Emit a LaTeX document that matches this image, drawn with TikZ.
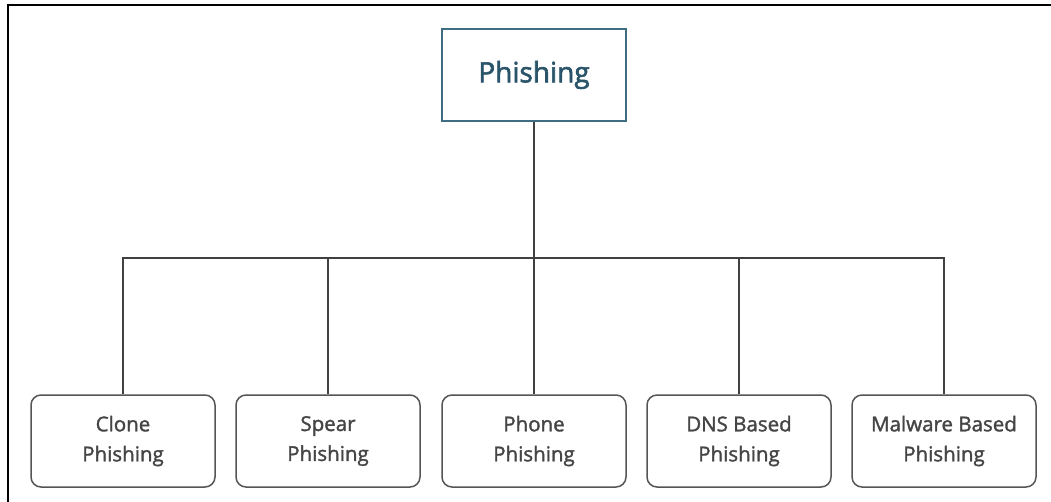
\documentclass[tikz,border=0pt]{standalone}
\usepackage{fontspec}
\setmainfont{Open Sans}[FakeBold=1.6]
\newfontfamily\rootfont{Open Sans}[FakeBold=2]
\definecolor{topframe}{HTML}{3F6E84}
\definecolor{toptext}{HTML}{2A5469}
\definecolor{boxframe}{HTML}{555555}
\definecolor{boxtext}{HTML}{454545}
\definecolor{linecol}{HTML}{404040}
\begin{document}
\begin{tikzpicture}[x=1pt,y=-1pt,
  rootbox/.style={draw=topframe, line width=1.8pt, minimum width=184pt, minimum height=92pt,
    inner sep=0pt, text=toptext, font=\rootfont\fontsize{28}{34}\selectfont},
  leafbox/.style={draw=boxframe, line width=1.5pt, rounded corners=10pt, minimum width=184pt,
    minimum height=92pt, inner sep=0pt, align=center, text=boxtext,
    font=\fontsize{20.5}{30}\selectfont},
  conn/.style={draw=linecol, line width=1.6pt}]
\useasboundingbox (0,0) rectangle (1051,501);
\clip (0,0) rectangle (1051,501);
\draw[line width=2.2pt, black] (8,520) -- (8,5) -- (1070,5);
\node[rootbox] (root) at (534,75) {\raisebox{-2pt}{Phishing}};
\node[leafbox] (c1) at (123,441) {Clone\\Phishing};
\node[leafbox] (c2) at (328,441) {Spear\\Phishing};
\node[leafbox] (c3) at (534,441) {Phone\\Phishing};
\node[leafbox] (c4) at (739,441) {DNS Based\\Phishing};
\node[leafbox] (c5) at (944,441) {Malware Based\\Phishing};
\coordinate (bus) at (534,258);
\draw[conn] (root.south) -- (bus);
\foreach \c in {c1,c2,c3,c4,c5}{\draw[conn] (bus) -| (\c.north);}
\end{tikzpicture}
\end{document}
